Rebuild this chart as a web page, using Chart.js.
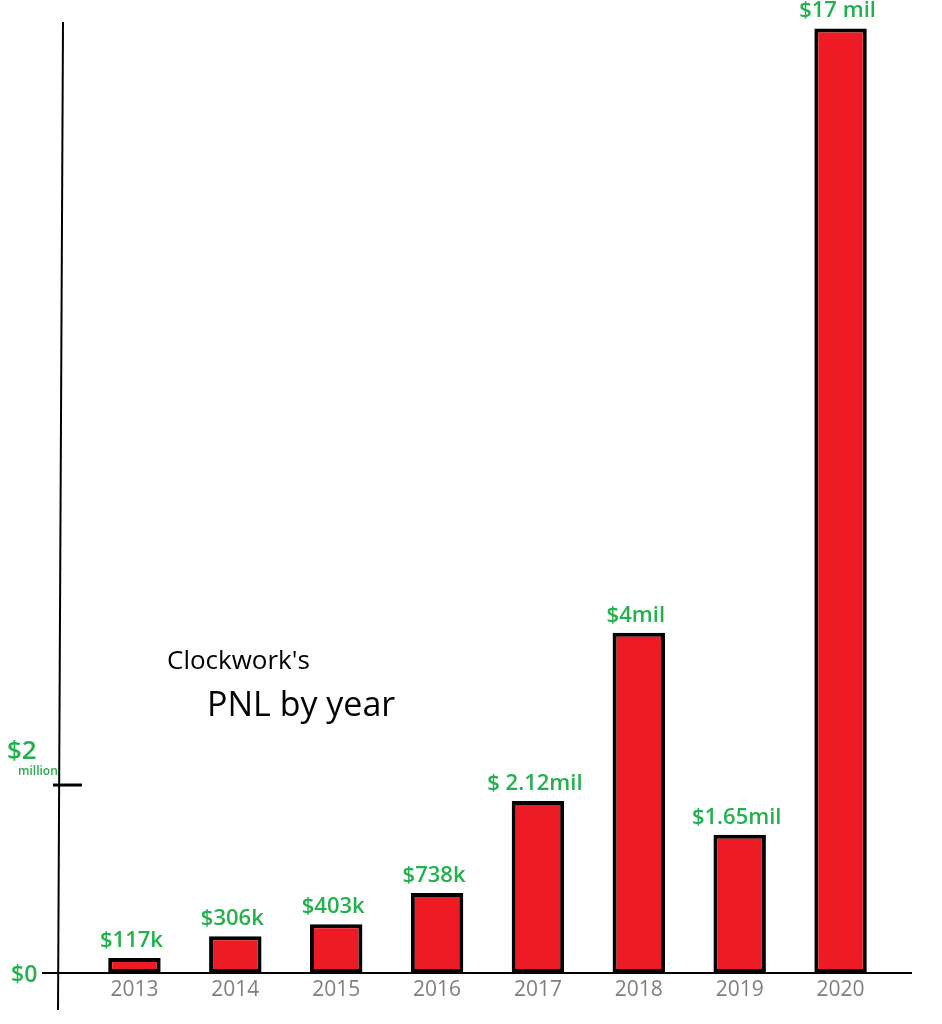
<!DOCTYPE html>
<html>
<head>
<meta charset="utf-8">
<script src="https://cdn.jsdelivr.net/npm/chart.js@4.4.1/dist/chart.umd.min.js"></script>
<style>
  html, body { margin: 0; padding: 0; background: #fff; }
  #wrap { width: 942px; height: 1024px; }
</style>
</head>
<body>
<div id="wrap"><canvas id="pnlChart" width="942" height="1024"></canvas></div>
<script>
// years on the x axis
const years = ["2013", "2014", "2015", "2016", "2017", "2018", "2019", "2020"];
// bar heights as drawn, in millions on the sketch's own axis ($2 million tick)
const drawnHeightsMil = [0.16, 0.39, 0.52, 0.85, 1.83, 3.62, 1.47, 10.05];
// value written above each bar
const pnlLabels = ["$117k", "$306k", "$403k", "$738k", "$ 2.12mil", "$4mil", "$1.65mil", "$17 mil"];
// y axis ticks (millions) and their text
const yTicks = [0, 2];
const yTickLabels = ["$0", "$2"];

const GREEN = "#22b14c";
const RED = "#ed1c24";
const GREY = "#7f7f7f";
const FONT = "'Open Sans', sans-serif";

// draws the sketchy axes, value labels and title
const sketchPlugin = {
  id: "sketch",
  beforeDatasetsDraw(chart) {
    const { ctx } = chart;
    const y = chart.scales.y;
    const base = y.getPixelForValue(0);
    ctx.save();
    ctx.strokeStyle = "#000";
    ctx.lineWidth = 2;
    // y axis line
    ctx.beginPath();
    ctx.moveTo(63, 22);
    ctx.lineTo(58, 1010);
    ctx.stroke();
    // baseline
    ctx.beginPath();
    ctx.moveTo(42, base);
    ctx.lineTo(912, base);
    ctx.stroke();
    // tick mark at $2 million
    ctx.lineWidth = 3;
    const t = y.getPixelForValue(yTicks[1]);
    ctx.beginPath();
    ctx.moveTo(53, t);
    ctx.lineTo(82, t);
    ctx.stroke();
    ctx.restore();
  },
  afterDraw(chart) {
    const { ctx } = chart;
    const y = chart.scales.y;
    const meta = chart.getDatasetMeta(0);
    ctx.save();
    // values above bars
    ctx.fillStyle = GREEN;
    ctx.font = "600 22px " + FONT;
    ctx.textAlign = "center";
    ctx.textBaseline = "alphabetic";
    meta.data.forEach((bar, i) => {
      ctx.fillText(pnlLabels[i], bar.x - 3, bar.y - 11);
    });
    // y tick labels
    ctx.textAlign = "left";
    ctx.textBaseline = "middle";
    ctx.font = "600 23px " + FONT;
    ctx.fillText(yTickLabels[0], 11, y.getPixelForValue(yTicks[0]) + 2);
    ctx.font = "600 26px " + FONT;
    ctx.fillText(yTickLabels[1], 7, y.getPixelForValue(yTicks[1]) - 33);
    ctx.font = "600 12px " + FONT;
    ctx.fillText("million", 18, y.getPixelForValue(yTicks[1]) - 13);
    // title
    ctx.fillStyle = "#000";
    ctx.font = "26px " + FONT;
    ctx.fillText("Clockwork's", 167, 662);
    ctx.font = "34px " + FONT;
    ctx.fillText("PNL by year", 207, 706);
    ctx.restore();
  },
};

const ctx = document.getElementById("pnlChart").getContext("2d");
new Chart(ctx, {
  type: "bar",
  data: {
    labels: years,
    datasets: [
      {
        data: drawnHeightsMil,
        backgroundColor: RED,
        borderColor: "#000",
        borderWidth: 4,
        borderSkipped: false,
        barPercentage: 0.52,
        categoryPercentage: 1,
      },
    ],
  },
  options: {
    responsive: false,
    animation: false,
    layout: { padding: { left: 84, right: 51, top: 20, bottom: 0 } },
    plugins: {
      legend: { display: false },
      tooltip: { enabled: false },
    },
    scales: {
      x: {
        grid: { display: false, drawTicks: false },
        border: { display: false },
        ticks: {
          color: GREY,
          font: { family: "'Open Sans', sans-serif", size: 21 },
          padding: 4,
        },
        afterFit: (scale) => {
          scale.height = 51;
        },
      },
      y: {
        display: false,
        min: 0,
        max: 10.14,
      },
    },
  },
  plugins: [sketchPlugin],
});
</script>
</body>
</html>
